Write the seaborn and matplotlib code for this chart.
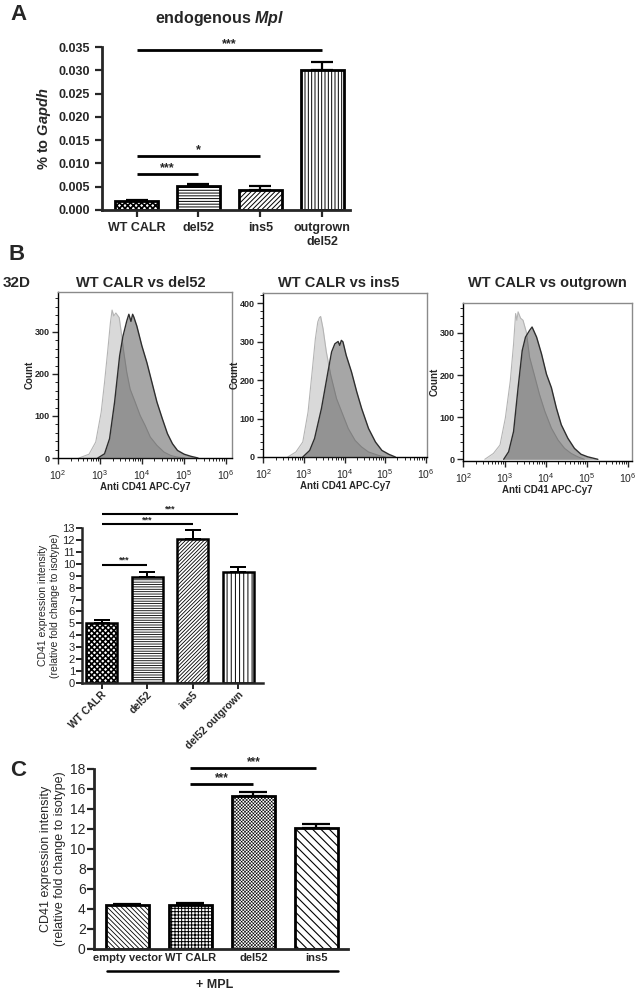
import numpy as np
import matplotlib
matplotlib.use("Agg")
import matplotlib.pyplot as plt
import seaborn as sns
from matplotlib.ticker import MultipleLocator, FormatStrFormatter

sns.set_style("ticks")
plt.rcParams["font.family"] = ["Liberation Sans", "DejaVu Sans"]
plt.rcParams["mathtext.fontset"] = "custom"
plt.rcParams["mathtext.rm"] = "Liberation Sans:bold"
plt.rcParams["mathtext.bf"] = "Liberation Sans:bold"
plt.rcParams["mathtext.it"] = "Liberation Sans:italic:bold"
plt.rcParams["hatch.linewidth"] = 0.7

# ---------------------------------------------------------------------
# data
# ---------------------------------------------------------------------
# A: endogenous Mpl (% to Gapdh)
a_groups = ["WT CALR", "del52", "ins5", "outgrown\ndel52"]
a_values = [0.0019, 0.0051, 0.0042, 0.0301]
a_errors = [0.0002, 0.0005, 0.0009, 0.0016]
a_sig_pairs = [(0, 3), (0, 2), (0, 1)]
a_sig_y = [0.0344, 0.0116, 0.0077]
a_sig_txt = ["***", "*", "***"]

# B: flow histograms (log10 fluorescence, count)
hist_titles = ["WT CALR vs del52", "WT CALR vs ins5", "WT CALR vs outgrown"]
wt1_log = [2.50, 2.74, 2.90, 3.03, 3.11, 3.19, 3.25, 3.29, 3.33, 3.38, 3.46, 3.51,
           3.57, 3.64, 3.72, 3.84, 3.96, 4.08, 4.20, 4.36, 4.53, 4.69, 4.85, 5.02]
wt1_cnt = [0, 9, 38, 109, 180, 259, 322, 352, 338, 345, 334, 298,
           251, 204, 164, 133, 101, 77, 50, 30, 14, 6, 2, 0]
mut1_log = [2.95, 3.11, 3.23, 3.35, 3.47, 3.55, 3.64, 3.69, 3.74, 3.78, 3.81, 3.88,
            4.00, 4.12, 4.24, 4.36, 4.49, 4.61, 4.73, 4.85, 5.01, 5.17, 5.34]
mut1_cnt = [0, 10, 46, 133, 243, 290, 326, 342, 325, 342, 335, 314,
            267, 227, 180, 133, 93, 58, 34, 18, 9, 4, 0]
wt2_log = [2.60, 2.80, 2.97, 3.10, 3.20, 3.28, 3.34, 3.38, 3.41, 3.47, 3.55, 3.66,
           3.80, 3.93, 4.09, 4.26, 4.42, 4.59, 4.84, 5.00]
wt2_cnt = [0, 13, 39, 117, 221, 307, 351, 362, 365, 333, 273, 212,
           152, 117, 74, 43, 26, 13, 4, 0]
mut2_log = [2.97, 3.14, 3.26, 3.43, 3.59, 3.68, 3.76, 3.84, 3.88, 3.92, 3.96, 4.04,
            4.17, 4.30, 4.42, 4.59, 4.76, 4.92, 5.09, 5.25]
mut2_cnt = [0, 17, 48, 126, 221, 273, 294, 300, 290, 303, 299, 264,
            221, 169, 126, 74, 39, 17, 7, 0]
wt3_log = [2.52, 2.73, 2.89, 3.02, 3.14, 3.22, 3.27, 3.30, 3.33, 3.39, 3.45, 3.53,
           3.61, 3.72, 3.85, 3.98, 4.14, 4.30, 4.46, 4.62, 4.78, 4.94]
wt3_cnt = [0, 14, 34, 98, 186, 274, 346, 330, 350, 335, 330, 302,
           242, 202, 154, 114, 74, 46, 26, 14, 6, 0]
mut3_log = [2.98, 3.10, 3.22, 3.33, 3.43, 3.51, 3.61, 3.67, 3.78, 3.90, 4.02, 4.14,
            4.26, 4.38, 4.54, 4.70, 4.86, 5.02, 5.27]
mut3_cnt = [0, 18, 66, 170, 258, 290, 306, 314, 290, 250, 202, 170,
            122, 82, 50, 26, 12, 6, 0]

# B: CD41 bar chart
b_groups = ["WT CALR", "del52", "ins5", "del52 outgrown"]
b_values = [5.0, 8.85, 12.1, 9.3]
b_errors = [0.27, 0.45, 0.72, 0.45]
b_sig_pairs = [(0, 3), (0, 2), (0, 1)]
b_sig_y = [14.2, 13.3, 9.9]

# C: CD41 with MPL
c_groups = ["empty vector", "WT CALR", "del52", "ins5"]
c_values = [4.4, 4.45, 15.3, 12.1]
c_errors = [0.12, 0.15, 0.45, 0.4]
c_sig_pairs = [(1, 3), (1, 2)]
c_sig_y = [18.1, 16.5]

# ---------------------------------------------------------------------
W, H = 635, 992
fig = plt.figure(figsize=(W / 100, H / 100), dpi=100)


def px_axes(x0, y0, x1, y1):
    return fig.add_axes([x0 / W, 1 - y1 / H, (x1 - x0) / W, (y1 - y0) / H])


def fig_text(x, y, s, **kw):
    fig.text(x / W, 1 - y / H, s, **kw)


def bar_panel(ax, groups, values, errors, hatches, width, lw, capsize,
              hatch_lw=None):
    sns.barplot(x=groups, y=values, color="white", edgecolor="black",
                linewidth=lw, width=width, saturation=1, ax=ax)
    for k, (p, h) in enumerate(zip(ax.patches, hatches)):
        p.set_hatch(h)
        if hatch_lw is not None and hasattr(p, "set_hatch_linewidth"):
            p.set_hatch_linewidth(hatch_lw[k])
    ax.errorbar(range(len(values)), values, yerr=[np.zeros(len(errors)), errors],
                fmt="none", ecolor="black", elinewidth=lw * 0.8, capsize=capsize,
                capthick=lw * 0.8, zorder=3)
    sns.despine(ax=ax)
    for s in ["left", "bottom"]:
        ax.spines[s].set_linewidth(lw)
    ax.set_xlabel("")


def sig(ax, pairs, ys, labels, lw, fs):
    for (i, j), y, t in zip(pairs, ys, labels):
        ax.plot([i, j], [y, y], color="black", lw=lw, clip_on=False,
                solid_capstyle="butt")
        ax.text((i + j) / 2, y, t, ha="center", va="bottom", fontsize=fs,
                fontweight="bold")


# ---------------------------------------------------------------------
# A
# ---------------------------------------------------------------------
ax = px_axes(102, 47, 350, 210)
bar_panel(ax, a_groups, a_values, a_errors, ["xxxxxx", "------", "///////", "|||||"],
          0.69, 2, 8, hatch_lw=[1.2, 0.7, 0.7, 0.7])
ax.set_xlim(-0.56, 3.45)
ax.set_ylim(0, 0.035)
ax.yaxis.set_major_locator(MultipleLocator(0.005))
ax.yaxis.set_major_formatter(FormatStrFormatter("%.3f"))
ax.tick_params(axis="both", length=5, width=1.6, labelsize=9)
for lab in ax.get_xticklabels() + ax.get_yticklabels():
    lab.set_fontweight("bold")
ax.set_ylabel("% to $\\mathit{Gapdh}$", fontsize=10.5, fontweight="bold", labelpad=4)
sig(ax, a_sig_pairs, a_sig_y, a_sig_txt, 2, 9)
fig_text(220, 18, "endogenous $\\mathit{Mpl}$", ha="center", va="center",
         fontsize=11.5, fontweight="bold")
fig_text(10, 15, "A", ha="left", va="center", fontsize=16, fontweight="bold")

# ---------------------------------------------------------------------
# B histograms
# ---------------------------------------------------------------------
fig_text(8, 254, "B", ha="left", va="center", fontsize=16, fontweight="bold")
fig_text(3, 283, "32D", ha="left", va="center", fontsize=11, fontweight="bold")

hist_boxes = [(58, 292, 232, 458), (263, 293, 427, 457), (463, 303, 632, 461)]
hist_xlims = [(2.0, 6.15), (1.99, 6.03), (1.99, 6.1)]
hist_ylims = [(0, 395), (0, 426), (-4, 371)]
hist_yticks = [[0, 100, 200, 300], [0, 100, 200, 300, 400], [0, 100, 200, 300]]
hist_title_x = [141, 339, 547]
curves = [(wt1_log, wt1_cnt, mut1_log, mut1_cnt),
          (wt2_log, wt2_cnt, mut2_log, mut2_cnt),
          (wt3_log, wt3_cnt, mut3_log, mut3_cnt)]

for k in range(3):
    ax = px_axes(*hist_boxes[k])
    ax.set_xscale("log")
    wl, wc, ml, mc = curves[k]
    wx = np.power(10.0, wl)
    mx = np.power(10.0, ml)
    ax.fill_between(wx, wc, color="#d9d9d9", lw=0, zorder=1)
    sns.lineplot(x=wx, y=wc, color="#b4b4b4", lw=0.8, ax=ax, zorder=2)
    ax.fill_between(mx, mc, color="#4e4e4e", alpha=0.5, lw=0, zorder=3)
    sns.lineplot(x=mx, y=mc, color="#2e2e2e", lw=1.0, ax=ax, zorder=4)
    ax.set_xlim(10 ** hist_xlims[k][0], 10 ** hist_xlims[k][1])
    ax.set_ylim(*hist_ylims[k])
    ax.set_yticks(hist_yticks[k])
    ax.yaxis.set_minor_locator(MultipleLocator(20))
    ax.set_xticks([1e2, 1e3, 1e4, 1e5, 1e6])
    for s in ax.spines.values():
        s.set_color("#8a8a8a")
        s.set_linewidth(1)
    ax.spines["left"].set_color("black")
    ax.spines["bottom"].set_color("black")
    ax.tick_params(axis="both", which="major", length=4, width=1, labelsize=6.5,
                   pad=2)
    ax.tick_params(axis="both", which="minor", length=2, width=0.7)
    ax.tick_params(axis="x", labelsize=7.5, pad=3)
    for lab in ax.get_yticklabels():
        lab.set_fontweight("bold")
    ax.set_xlabel("Anti CD41 APC-Cy7", fontsize=7, fontweight="bold", labelpad=0)
    ax.set_ylabel("Count", fontsize=7, fontweight="bold", labelpad=0)
    fig_text(hist_title_x[k], 283, hist_titles[k], ha="center", va="center",
             fontsize=10.5, fontweight="bold")

# ---------------------------------------------------------------------
# B bar chart
# ---------------------------------------------------------------------
ax = px_axes(82, 528, 263, 683)
bar_panel(ax, b_groups, b_values, b_errors, ["xxxxxx", "-------", "/////////", "||||"],
          0.68, 1.8, 6, hatch_lw=[1.2, 0.6, 0.6, 0.7])
ax.set_xlim(-0.43, 3.54)
ax.set_ylim(0, 13)
ax.set_yticks(range(0, 14))
ax.tick_params(axis="both", length=4, width=1.4, labelsize=8, pad=1)
ax.tick_params(axis="x", labelsize=7.5)
plt.setp(ax.get_xticklabels(), rotation=45, ha="right", rotation_mode="anchor",
         fontweight="bold")
ax.set_ylabel("CD41 expression intensity\n(relative fold change to isotype)",
              fontsize=7.5, labelpad=2)
sig(ax, b_sig_pairs, b_sig_y, ["***"] * 3, 1.5, 6.5)

# ---------------------------------------------------------------------
# C
# ---------------------------------------------------------------------
fig_text(10, 770, "C", ha="left", va="center", fontsize=16, fontweight="bold")
ax = px_axes(94, 769, 348, 949)
bar_panel(ax, c_groups, c_values, c_errors,
          ["\\\\\\\\\\\\\\", "+++++", "xxxxxxxxxx", "\\\\\\\\"], 0.68, 2, 10,
          hatch_lw=[0.6, 0.7, 0.4, 0.8])
ax.set_xlim(-0.53, 3.5)
ax.set_ylim(0, 18)
ax.set_yticks(range(0, 19, 2))
ax.tick_params(axis="y", length=5, width=1.6, labelsize=10, pad=1)
ax.tick_params(axis="x", length=0, labelsize=8, pad=3)
plt.setp(ax.get_xticklabels(), fontweight="bold")
ax.set_ylabel("CD41 expression intensity\n(relative fold change to isotype)",
              fontsize=9, labelpad=3)
sig(ax, c_sig_pairs, c_sig_y, ["***"] * 2, 2, 8.5)
ax.plot([-0.33, 3.34], [-0.122, -0.122], color="black", lw=1.8,
        transform=ax.get_xaxis_transform(), clip_on=False)
ax.text(1.39, -0.2, "+ MPL", ha="center", va="center", fontsize=9,
        fontweight="bold", transform=ax.get_xaxis_transform())

fig.savefig("out.png", dpi=100)
